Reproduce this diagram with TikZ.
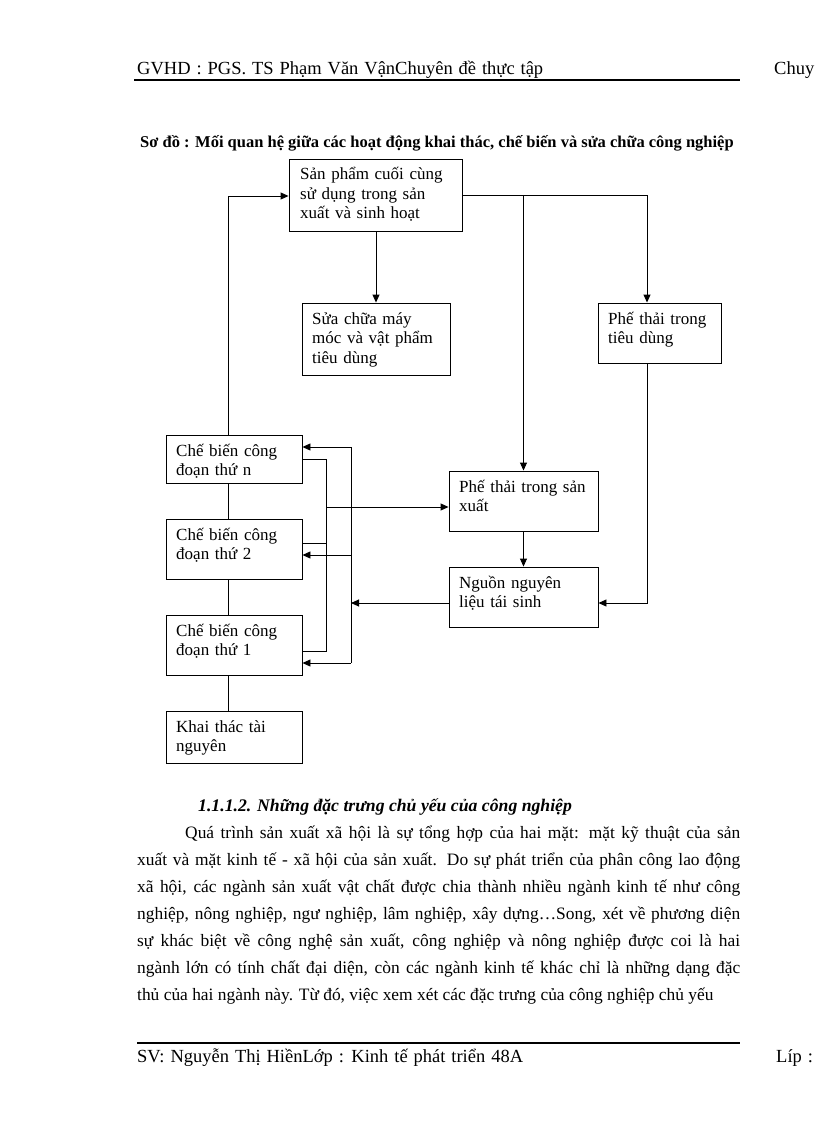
\documentclass[tikz,border=0pt]{standalone}
\usepackage{fontspec}
\setmainfont{Liberation Serif}
\usetikzlibrary{arrows.meta}
\newcommand{\myhdrfont}{\fontsize{18.5}{20}\selectfont\spaceskip=0.32em plus 0.1em\relax}
\newcommand{\mylblfont}{\fontsize{17}{19.5}\selectfont\spaceskip=0.33em plus 0.1em\relax}
\begin{document}
\begin{tikzpicture}[x=1pt,y=-1pt,
  box/.style={draw, line width=0.9pt, inner sep=0pt},
  lbl/.style={anchor=base west, inner sep=0pt, font=\mylblfont},
  ln/.style={line width=0.9pt},
  arr/.style={line width=0.9pt, -{Triangle[length=8pt,width=7pt]}},
  hdr/.style={anchor=base west, inner sep=0pt, font=\myhdrfont},
  body/.style={anchor=base west, inner sep=0pt, font=\fontsize{17.4}{20}\selectfont}]
\useasboundingbox[fill=white] (0,0) rectangle (816,1123);

% header / footer
\node[hdr] (h1) at (137,75) {GVHD : PGS. TS Phạm Văn VậnChuyên đề thực tập};
\node[hdr] (h2) at (774,75) {Chuy};
\draw[line width=2pt] (134,80) -- (740,80);
\draw[line width=1.2pt] (137,1043) -- (740,1043);
\node[hdr] (f1) at (137,1062) {SV: Nguyễn Thị HiềnLớp : Kinh tế phát triển 48A};
\node[hdr] (f2) at (776,1062) {Líp :};

% caption
\node[anchor=base west, inner sep=0pt, font=\bfseries\fontsize{16.5}{18}\selectfont] (cap) at (140,148)
  {Sơ đồ : Mối quan hệ giữa các hoạt động khai thác, chế biến và sửa chữa công nghiệp};

% boxes
\node[box, minimum width=173pt, minimum height=72pt] (sp) at (375.5,195) {};
\node[box, minimum width=148pt, minimum height=72pt] (sc) at (376,339) {};
\node[box, minimum width=123pt, minimum height=60pt] (td) at (659.5,333) {};
\node[box, minimum width=149pt, minimum height=60pt] (psx) at (523.5,501) {};
\node[box, minimum width=149pt, minimum height=60pt] (ng) at (523.5,597) {};
\node[box, minimum width=136pt, minimum height=48pt] (cn) at (234,459) {};
\node[box, minimum width=136pt, minimum height=60pt] (c2) at (234,549) {};
\node[box, minimum width=136pt, minimum height=60pt] (c1) at (234,645) {};
\node[box, minimum width=136pt, minimum height=52pt] (kt) at (234,737) {};

% labels
\node[lbl] (sp-t) at (300,180) {\parbox[t]{170pt}{Sản phẩm cuối cùng\\sử dụng trong sản\\xuất và sinh hoạt}};
\node[lbl] (sc-t) at (312,324) {\parbox[t]{140pt}{Sửa chữa máy\\móc và vật phẩm\\tiêu dùng}};
\node[lbl] (td-t) at (608,324) {\parbox[t]{120pt}{Phế thải trong\\tiêu dùng}};
\node[lbl] (psx-t) at (459,492) {\parbox[t]{140pt}{Phế thải trong sản\\xuất}};
\node[lbl] (ng-t) at (459,588) {\parbox[t]{140pt}{Nguồn nguyên\\liệu tái sinh}};
\node[lbl] (cn-t) at (176,456) {\parbox[t]{130pt}{Chế biến công\\đoạn thứ n}};
\node[lbl] (c2-t) at (176,540) {\parbox[t]{130pt}{Chế biến công\\đoạn thứ 2}};
\node[lbl] (c1-t) at (176,636) {\parbox[t]{130pt}{Chế biến công\\đoạn thứ 1}};
\node[lbl] (kt-t) at (176,732) {\parbox[t]{130pt}{Khai thác tài\\nguyên}};

% connectors, upper part
\draw[arr] (sc.north |- sp.south) -- (sc.north);
\coordinate (jt) at (647,195);
\draw[arr] (sp.east) -- (jt) -- (jt |- td.north);
\draw[arr] (psx.north |- sp.east) -- (psx.north);
\draw[arr] (psx.south) -- (ng.north);
\coordinate (nge) at ([yshift=-6pt]ng.east);
\draw[arr] (jt |- td.south) -- (jt |- nge) -- (nge);

% spine
\coordinate (sx) at (228,196);
\draw[ln] (sx |- kt.north) -- (sx |- c1.south);
\draw[ln] (sx |- c1.north) -- (sx |- c2.south);
\draw[ln] (sx |- c2.north) -- (sx |- cn.south);
\draw[arr] (sx |- cn.north) -- (sx) -- (sx -| sp.west);

% collector
\coordinate (ctop) at (326,459);
\coordinate (cbot) at (326,651);
\coordinate (cmid) at (326,507);
\draw[ln] (cn.east) -- (ctop) -- (cbot) -- (cbot -| c1.east);
\draw[ln] ([yshift=6pt]c2.east) -- ([yshift=6pt]c2.east -| ctop);
\draw[arr] (cmid) -- (cmid -| psx.west);

% distributor
\coordinate (dtop) at (351,447);
\coordinate (dmid) at (351,555);
\coordinate (dbot) at (351,663);
\draw[ln] (dtop) -- (dbot);
\draw[arr] (dtop) -- (dtop -| cn.east);
\draw[arr] (dmid) -- (dmid -| c2.east);
\draw[arr] (dbot) -- (dbot -| c1.east);
\coordinate (ngw) at ([yshift=-6pt]ng.west);
\draw[arr] (ngw) -- (ngw -| dtop);

% text
\node[anchor=base west, inner sep=0pt, font=\bfseries\itshape\fontsize{17.7}{20}\selectfont] (sec) at (198,811)
  {1.1.1.2. Những đặc trưng chủ yếu của công nghiệp};
\node[body] (l1) at (185,838) {\makebox[555pt][s]{Quá trình sản xuất xã hội là sự tổng hợp của hai mặt: mặt kỹ thuật của sản}};
\node[body] (l2) at (137,865) {\makebox[603pt][s]{xuất và mặt kinh tế - xã hội của sản xuất. Do sự phát triển của phân công lao động}};
\node[body] (l3) at (137,892) {\makebox[603pt][s]{xã hội, các ngành sản xuất vật chất được chia thành nhiều ngành kinh tế như công}};
\node[body] (l4) at (137,919) {\makebox[603pt][s]{nghiệp, nông nghiệp, ngư nghiệp, lâm nghiệp, xây dựng…Song, xét về phương diện}};
\node[body] (l5) at (137,946) {\makebox[603pt][s]{sự khác biệt về công nghệ sản xuất, công nghiệp và nông nghiệp được coi là hai}};
\node[body] (l6) at (137,973) {\makebox[603pt][s]{ngành lớn có tính chất đại diện, còn các ngành kinh tế khác chỉ là những dạng đặc}};
\node[body] (l7) at (137,1000) {thủ của hai ngành này. Từ đó, việc xem xét các đặc trưng của công nghiệp chủ yếu};
\end{tikzpicture}
\end{document}
